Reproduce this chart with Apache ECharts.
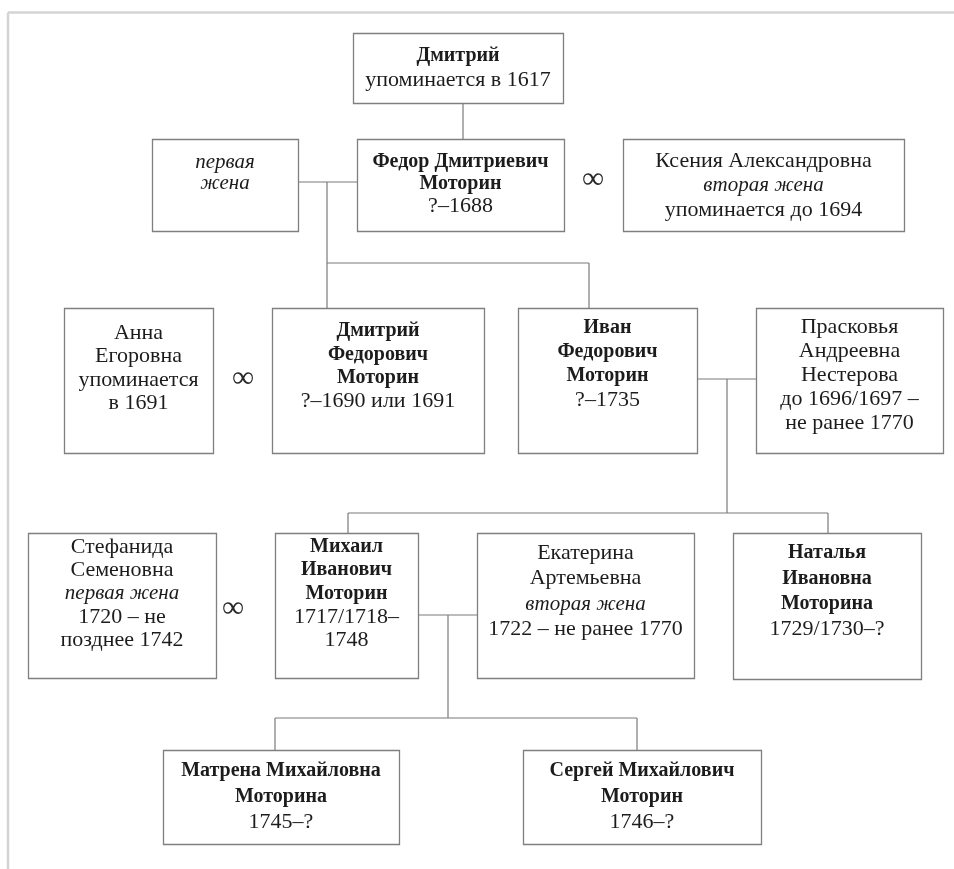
<!DOCTYPE html>
<html>
<head>
<meta charset="utf-8">
<script src="https://cdn.jsdelivr.net/npm/echarts@6/dist/echarts.min.js"></script>
<style>
html,body{margin:0;padding:0;background:#fff;}
#chart{width:954px;height:869px;}
</style>
</head>
<body>
<div id="chart"></div>
<script>
// Text of each person box: prefix b: bold, i: italic, n: normal
const boxText = [
  ['b:Дмитрий', 'n:упоминается в 1617'],
  ['i:первая', 'i:жена'],
  ['b:Федор Дмитриевич', 'b:Моторин', 'n:?–1688'],
  ['n:Ксения Александровна', 'i:вторая жена', 'n:упоминается до 1694'],
  ['n:Анна', 'n:Егоровна', 'n:упоминается', 'n:в 1691'],
  ['b:Дмитрий', 'b:Федорович', 'b:Моторин', 'n:?–1690 или 1691'],
  ['b:Иван', 'b:Федорович', 'b:Моторин', 'n:?–1735'],
  ['n:Прасковья', 'n:Андреевна', 'n:Нестерова', 'n:до 1696/1697 –', 'n:не ранее 1770'],
  ['n:Стефанида', 'n:Семеновна', 'i:первая жена', 'n:1720 – не', 'n:позднее 1742'],
  ['b:Михаил', 'b:Иванович', 'b:Моторин', 'n:1717/1718–', 'n:1748'],
  ['n:Екатерина', 'n:Артемьевна', 'i:вторая жена', 'n:1722 – не ранее 1770'],
  ['b:Наталья', 'b:Ивановна', 'b:Моторина', 'n:1729/1730–?'],
  ['b:Матрена Михайловна', 'b:Моторина', 'n:1745–?'],
  ['b:Сергей Михайлович', 'b:Моторин', 'n:1746–?']
];
// Layout of boxes in diagram units: [left, top, right, bottom, firstLineY, lineStep]
const boxLayout = [
  [353, 33, 563, 103, 56, 24],
  [152, 139, 298, 231, 162, 21.5],
  [357, 139, 564, 231, 162, 22],
  [623, 139, 904, 231, 161, 24.5],
  [64, 308, 213, 453, 333, 23.5],
  [272, 308, 484, 453, 331, 23.5],
  [518, 308, 697, 453, 328, 24],
  [756, 308, 943, 453, 327, 24],
  [28, 533, 216, 678, 547, 23.3],
  [275, 533, 418, 678, 547, 23.3],
  [477, 533, 694, 678, 553, 25.5],
  [733, 533, 921, 679, 553, 25.5],
  [163, 750, 399, 844, 771, 25.5],
  [523, 750, 761, 844, 771, 25.5]
];
// Connector segments: [x1, y1, x2, y2]
const links = [
  [463, 103, 463, 139],
  [298, 182, 357, 182],
  [327, 182, 327, 308],
  [327, 263, 589, 263],
  [589, 263, 589, 308],
  [697, 379, 756, 379],
  [727, 379, 727, 513],
  [348, 513, 828, 513],
  [348, 513, 348, 533],
  [828, 513, 828, 533],
  [418, 615, 477, 615],
  [448, 615, 448, 718],
  [275, 718, 637, 718],
  [275, 718, 275, 750],
  [637, 718, 637, 750]
];
// Marriage signs: [x, y]
const marriages = [
  [593, 180],
  [243, 379],
  [233, 609]
];
// Page frame (top and left rules)
const frame = [
  [8, 12.5, 954, 12.5],
  [8, 12.5, 8, 869]
];

const FONT = '"Liberation Serif", "Times New Roman", "DejaVu Serif", serif';
const SIZES = {b: 20, n: 22, i: 21};

const chart = echarts.init(document.getElementById('chart'), null, {renderer: 'canvas'});

function segRender(color, width) {
  return function (params, api) {
    const a = api.coord([api.value(0), api.value(1)]);
    const b = api.coord([api.value(2), api.value(3)]);
    return {
      type: 'line',
      shape: {x1: a[0], y1: a[1], x2: b[0], y2: b[1]},
      style: {stroke: color, lineWidth: width}
    };
  };
}

const option = {
  animation: false,
  backgroundColor: '#ffffff',
  grid: {left: 0, right: 0, top: 0, bottom: 0},
  xAxis: {type: 'value', min: 0, max: 954, show: false},
  yAxis: {type: 'value', min: 0, max: 869, inverse: true, show: false},
  series: [
    {
      type: 'custom',
      name: 'frame',
      clip: false,
      silent: true,
      data: frame,
      renderItem: segRender('#d4d4d4', 2.5)
    },
    {
      type: 'custom',
      name: 'links',
      clip: false,
      silent: true,
      data: links,
      renderItem: segRender('#7a7a7a', 1.2)
    },
    {
      type: 'custom',
      name: 'boxes',
      clip: false,
      silent: true,
      data: boxLayout.map((b, i) => b.concat([i])),
      renderItem: function (params, api) {
        const x0 = api.value(0), y0 = api.value(1), x1 = api.value(2), y1 = api.value(3);
        const fy = api.value(4);
        const step = api.value(5);
        const idx = api.value(6);
        const p0 = api.coord([x0, y0]);
        const p1 = api.coord([x1, y1]);
        const children = [{
          type: 'rect',
          shape: {x: p0[0] + 0.5, y: p0[1] + 0.5, width: p1[0] - p0[0], height: p1[1] - p0[1]},
          style: {fill: '#ffffff', stroke: '#7f7f7f', lineWidth: 1.3}
        }];
        const cx = (x0 + x1) / 2;
        boxText[idx].forEach(function (ln, k) {
          const kind = ln.slice(0, 1);
          const txt = ln.slice(2);
          const pt = api.coord([cx, fy + k * step]);
          children.push({
            type: 'text',
            style: {
              text: txt,
              x: pt[0],
              y: pt[1],
              align: 'center',
              verticalAlign: 'middle',
              fill: '#1c1c1c',
              fontFamily: FONT,
              fontSize: SIZES[kind],
              fontWeight: kind === 'b' ? 'bold' : 'normal',
              fontStyle: kind === 'i' ? 'italic' : 'normal'
            }
          });
        });
        return {type: 'group', children: children};
      }
    },
    {
      type: 'custom',
      name: 'marriages',
      clip: false,
      silent: true,
      data: marriages,
      renderItem: function (params, api) {
        const p = api.coord([api.value(0), api.value(1)]);
        return {
          type: 'text',
          style: {
            text: '∞',
            x: p[0],
            y: p[1],
            align: 'center',
            verticalAlign: 'middle',
            fill: '#2a2a2a',
            fontFamily: FONT,
            fontSize: 31
          }
        };
      }
    }
  ]
};
chart.setOption(option);
</script>
</body>
</html>
